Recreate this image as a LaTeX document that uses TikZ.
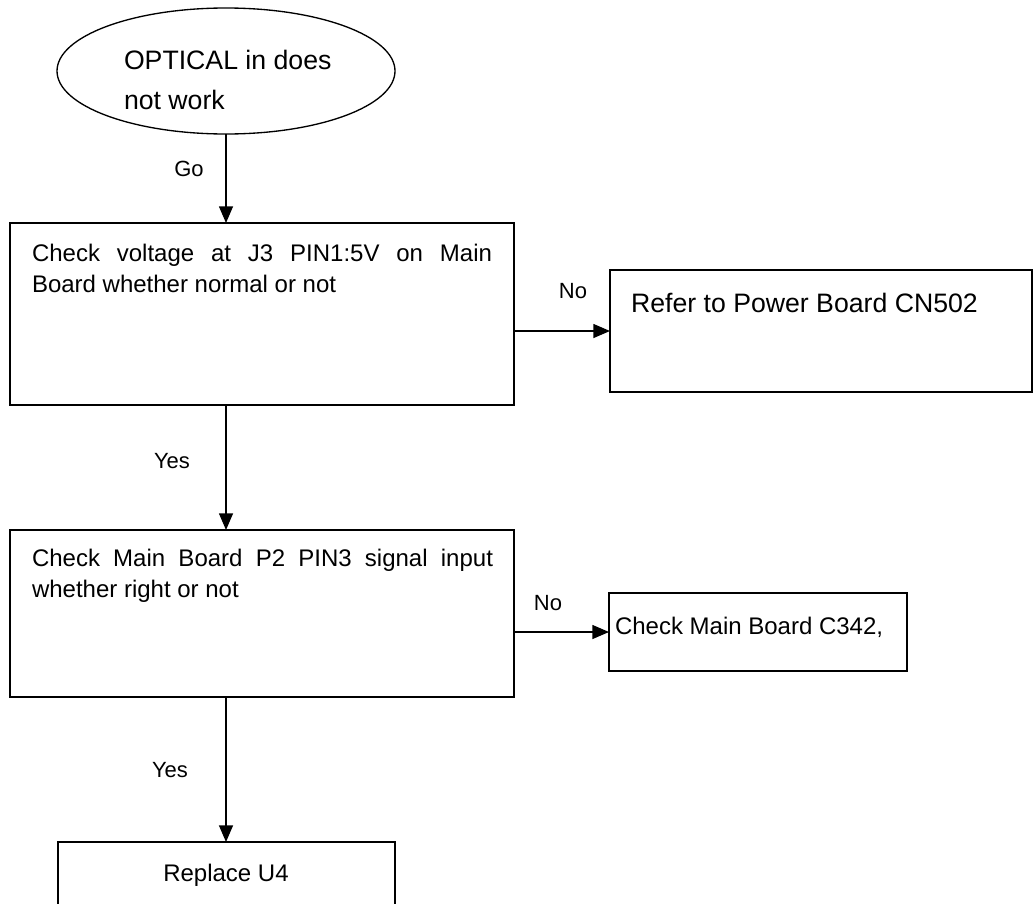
\documentclass[tikz,border=0pt]{standalone}
\usepackage{fontspec}
\setmainfont{Liberation Sans}
\usetikzlibrary{shapes.geometric,arrows.meta}
\newcommand\pxu{0.75pt}
\tikzset{
  every node/.style={inner sep=0pt, outer sep=0pt},
  box/.style={draw, line width=1pt, rectangle, anchor=north west},
  arr/.style={line width=1pt, -{Triangle[length=12.5pt,width=10.5pt]}},
  lbl/.style={font=\fontsize{16.5}{20}\selectfont, anchor=base},
  btext/.style={font=\fontsize{18}{23.25}\selectfont, anchor=north west},
  bigtext/.style={font=\fontsize{20}{30}\selectfont, anchor=north west}
}
\begin{document}
\begin{tikzpicture}[x=0.75pt, y=-0.75pt]
\useasboundingbox (0,0) rectangle (1034,903);
% shapes
\node[draw, line width=1pt, ellipse, minimum width=338*\pxu, minimum height=126*\pxu] (start) at (226,71) {};
\node[box, minimum width=504*\pxu, minimum height=182*\pxu] (b1) at (10,223) {};
\node[box, minimum width=422*\pxu, minimum height=122*\pxu] (b2) at (610,270) {};
\node[box, minimum width=504*\pxu, minimum height=167*\pxu] (b3) at (10,530) {};
\node[box, minimum width=298*\pxu, minimum height=78*\pxu] (b4) at (609,593) {};
\node[box, minimum width=337*\pxu, minimum height=90*\pxu] (b5) at (58,842) {};
% texts
\node[bigtext, align=left] (t0) at (124,50) {OPTICAL in does\\not work};
\node[btext, text width=460*\pxu, align=justify] (t1) at (32,244) {Check voltage at J3 PIN1:5V on Main\linebreak Board whether normal or not};
\node[bigtext] (t2) at (631,293.5) {Refer to Power Board CN502};
\node[btext, text width=461*\pxu, align=justify] (t3) at (32,549) {Check Main Board P2 PIN3 signal input\linebreak whether right or not};
\node[btext] (t4) at (615,617.5) {Check Main Board C342,};
\node[btext, anchor=base] (t5) at (226,881.5) {Replace U4};
% connectors
\draw[arr] (start.south) -- (start.south |- b1.north);
\draw[arr] (b1.east |- b2.west) -- (b2.west);
\draw[arr] (b1.south -| start.south) -- (b3.north -| start.south);
\draw[arr] (b3.east |- b4.west) -- (b4.west);
\draw[arr] (b3.south -| start.south) -- (b5.north -| start.south);
% labels
\node[lbl] (go) at (189,176) {Go};
\node[lbl] (no1) at (573,298) {No};
\node[lbl] (yes1) at (172,468) {Yes};
\node[lbl] (no2) at (548,610) {No};
\node[lbl] (yes2) at (170,777) {Yes};
\end{tikzpicture}
\end{document}
